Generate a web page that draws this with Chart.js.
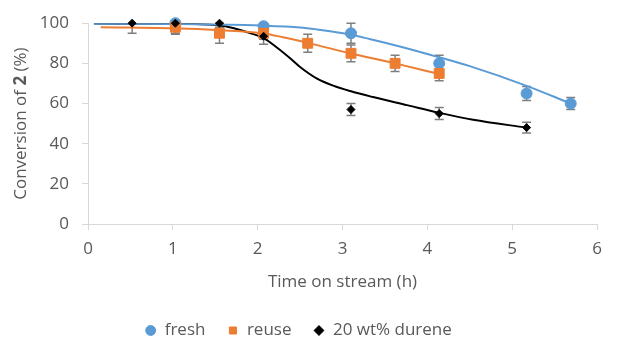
<!DOCTYPE html>
<html>
<head>
<meta charset="utf-8">
<script src="https://cdn.jsdelivr.net/npm/chart.js@4"></script>
<style>
  html, body { margin: 0; padding: 0; background: #fff; }
  #wrap { width: 620px; height: 341px; }
</style>
</head>
<body>
<div id="wrap"><canvas id="conversionChart"></canvas></div>
<script>
// --- dane ---
const freshTime = [1.03, 2.07, 3.1, 4.14, 5.17, 5.69];
const freshConv = [100, 98.5, 95, 80, 65, 60];
const freshErr = [1, 2, 5, 4, 3.5, 3];

const reuseTime = [1.03, 1.55, 2.07, 2.59, 3.1, 3.62, 4.14];
const reuseConv = [98, 95, 95, 90, 85, 80, 75];
const reuseErr = [3, 5, 3, 4.5, 4.2, 4, 3.7];

const dureneTime = [0.52, 1.03, 1.55, 2.07, 3.1, 4.14, 5.17];
const dureneConv = [100, 100, 100, 93.5, 57, 55, 48];
const dureneErr = [5, 5.5, 2, 4, 3, 3, 2.7];

// krzywe dopasowania (punkty)
const freshFitTime = [0.07, 1, 2.07, 2.5, 2.7, 3.09, 3.33, 3.72, 4.14, 4.5, 5.17, 5.69];
const freshFitConv = [99.7, 99.6, 98.8, 97.9, 96.9, 94.4, 92, 87.9, 83, 78.6, 68.8, 60];
const reuseFitTime = [0.15, 1, 1.56, 2.07, 2.3, 2.59, 3.09, 3.62, 4.14];
const reuseFitConv = [98, 97.5, 96.5, 94.9, 93, 90.2, 85, 80, 74.7];
const dureneFitTime = [0.07, 1, 1.4, 1.56, 1.72, 1.91, 2.07, 2.23, 2.39, 2.5, 2.7, 2.89, 3.09, 3.36, 3.76, 4.14, 4.54, 5.17];
const dureneFitConv = [99.8, 99.7, 99.4, 98.9, 97.5, 95.1, 92.6, 87.8, 82.3, 78.2, 72.4, 68.9, 66.2, 63.2, 59.2, 55.4, 51.9, 48];

const xTicks = [0, 1, 2, 3, 4, 5, 6];
const yTicks = [0, 20, 40, 60, 80, 100];

const seriesLabels = ['fresh', 'reuse', '20 wt% durene'];

const BLUE = '#5b9bd5';
const ORANGE = '#ed7d31';
const BLACK = '#000000';
const TEXT = '#595959';
const AXIS = '#d9d9d9';
const FONT = "'Open Sans', sans-serif";

const toPoints = (xs, ys) => xs.map((x, i) => ({ x: x, y: ys[i] }));

/**
 * Słupki błędów rysowane pod markerami, przycięte do obszaru wykresu
 */
const errorBarPlugin = {
    id: 'errorBars',
    beforeDatasetsDraw(chart) {
        const { ctx, chartArea, scales } = chart;
        ctx.save();
        ctx.strokeStyle = '#7f7f7f';
        ctx.lineWidth = 1.5;
        chart.data.datasets.forEach(ds => {
            if (!ds.errors) return;
            ds.data.forEach((p, i) => {
                const e = ds.errors[i];
                const xp = scales.x.getPixelForValue(p.x);
                let top = scales.y.getPixelForValue(p.y + e);
                let bot = scales.y.getPixelForValue(p.y - e);
                const topCap = top >= chartArea.top;
                const botCap = bot <= chartArea.bottom;
                top = Math.max(top, chartArea.top);
                bot = Math.min(bot, chartArea.bottom);
                ctx.beginPath();
                ctx.moveTo(xp, top);
                ctx.lineTo(xp, bot);
                if (topCap) { ctx.moveTo(xp - 4.5, top); ctx.lineTo(xp + 4.5, top); }
                if (botCap) { ctx.moveTo(xp - 4.5, bot); ctx.lineTo(xp + 4.5, bot); }
                ctx.stroke();
            });
        });
        ctx.restore();
    }
};

/**
 * Tytuł osi Y z pogrubioną "2"
 */
const yTitlePlugin = {
    id: 'yTitle',
    afterDraw(chart) {
        const { ctx, chartArea } = chart;
        const parts = [
            { text: 'Conversion of ', bold: false },
            { text: '2', bold: true },
            { text: ' (%)', bold: false }
        ];
        ctx.save();
        ctx.fillStyle = TEXT;
        ctx.textBaseline = 'middle';
        ctx.textAlign = 'left';
        let total = 0;
        parts.forEach(p => {
            ctx.font = (p.bold ? 'bold ' : '') + '17px ' + FONT;
            p.w = ctx.measureText(p.text).width;
            total += p.w;
        });
        ctx.translate(21, (chartArea.top + chartArea.bottom) / 2);
        ctx.rotate(-Math.PI / 2);
        let x = -total / 2;
        parts.forEach(p => {
            ctx.font = (p.bold ? 'bold ' : '') + '17px ' + FONT;
            ctx.fillText(p.text, x, 0);
            x += p.w;
        });
        ctx.restore();
    }
};

const ctx = document.getElementById('conversionChart').getContext('2d');

// order: wyższy = rysowany wcześniej (krzywe pod markerami, durene na wierzchu)
new Chart(ctx, {
    type: 'scatter',
    data: {
        datasets: [
            {
                label: seriesLabels[0],
                data: toPoints(freshTime, freshConv),
                errors: freshErr,
                backgroundColor: BLUE,
                borderColor: BLUE,
                pointStyle: 'circle',
                pointRadius: 5.5,
                pointHoverRadius: 5.5,
                clip: false,
                order: 3
            },
            {
                label: seriesLabels[1],
                data: toPoints(reuseTime, reuseConv),
                errors: reuseErr,
                backgroundColor: ORANGE,
                borderColor: ORANGE,
                pointStyle: 'rect',
                pointRadius: 7,
                pointHoverRadius: 7,
                clip: false,
                order: 2
            },
            {
                label: seriesLabels[2],
                data: toPoints(dureneTime, dureneConv),
                errors: dureneErr,
                backgroundColor: BLACK,
                borderColor: BLACK,
                pointStyle: 'rectRot',
                pointRadius: 4,
                pointHoverRadius: 4,
                clip: false,
                order: 1
            },
            {
                label: 'fit fresh',
                type: 'line',
                data: toPoints(freshFitTime, freshFitConv),
                borderColor: BLUE,
                borderWidth: 2,
                pointRadius: 0,
                cubicInterpolationMode: 'monotone',
                showLine: true,
                fill: false,
                order: 4
            },
            {
                label: 'fit reuse',
                type: 'line',
                data: toPoints(reuseFitTime, reuseFitConv),
                borderColor: ORANGE,
                borderWidth: 2,
                pointRadius: 0,
                cubicInterpolationMode: 'monotone',
                showLine: true,
                fill: false,
                order: 4
            },
            {
                label: 'fit durene',
                type: 'line',
                data: toPoints(dureneFitTime, dureneFitConv),
                borderColor: BLACK,
                borderWidth: 2,
                pointRadius: 0,
                cubicInterpolationMode: 'monotone',
                showLine: true,
                fill: false,
                order: 4
            }
        ]
    },
    options: {
        responsive: true,
        maintainAspectRatio: false,
        animation: false,
        layout: { padding: { top: 20, right: 23, bottom: -8, left: 0 } },
        plugins: {
            legend: {
                display: true,
                position: 'bottom',
                labels: {
                    usePointStyle: true,
                    boxWidth: 11,
                    boxHeight: 7,
                    padding: 22,
                    color: TEXT,
                    font: { family: FONT, size: 17 },
                    filter: item => seriesLabels.includes(item.text),
                    sort: (a, b) => a.datasetIndex - b.datasetIndex
                }
            },
            tooltip: { enabled: false }
        },
        scales: {
            x: {
                type: 'linear',
                min: 0,
                max: 6,
                afterBuildTicks: scale => { scale.ticks = xTicks.map(v => ({ value: v })); },
                afterFit: scale => { scale.height = 76; },
                grid: { drawOnChartArea: false, drawTicks: true, tickLength: 6, color: AXIS },
                border: { color: AXIS, width: 1 },
                ticks: { color: TEXT, padding: 9, font: { family: FONT, size: 17 } },
                title: {
                    display: true,
                    text: 'Time on stream (h)',
                    color: TEXT,
                    padding: { top: 0, bottom: 8 },
                    font: { family: FONT, size: 17 }
                }
            },
            y: {
                type: 'linear',
                min: 0,
                max: 100,
                afterBuildTicks: scale => { scale.ticks = yTicks.map(v => ({ value: v })); },
                afterFit: scale => { scale.width = 88; },
                grid: { drawOnChartArea: false, drawTicks: true, tickLength: 6, color: AXIS },
                border: { color: AXIS, width: 1 },
                ticks: { color: TEXT, padding: 13, font: { family: FONT, size: 17 } }
            }
        }
    },
    plugins: [errorBarPlugin, yTitlePlugin]
});
</script>
</body>
</html>
